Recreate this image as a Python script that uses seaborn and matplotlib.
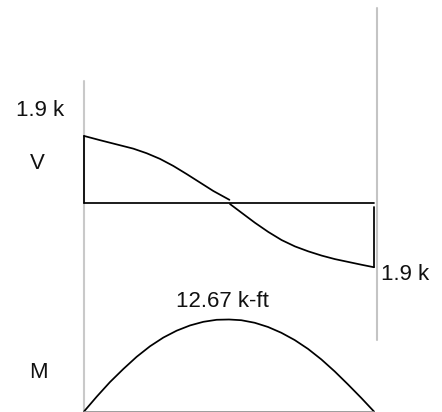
import matplotlib
matplotlib.use("Agg")
import matplotlib.pyplot as plt
import pandas as pd
import seaborn as sns

# beam is 20 ft, shear in kips, moment in k-ft
span = [0, 20]
shear_left_x = [0, 1.10, 2.25, 3.40, 4.32, 5.24, 6.16, 7.08, 8.0, 8.92, 10.03]
shear_left_v = [1.9, 1.78, 1.66, 1.54, 1.41, 1.25, 1.05, 0.82, 0.58, 0.34, 0.09]
shear_right_x = [10.07, 10.88, 11.79, 12.71, 13.63, 14.55, 15.47, 16.39, 17.31, 18.23, 19.15, 20.0]
shear_right_v = [-0.03, -0.28, -0.56, -0.82, -1.05, -1.23, -1.37, -1.49, -1.59, -1.67, -1.75, -1.82]
moment_x = [0, 0.88, 1.79, 2.71, 3.63, 4.55, 5.47, 6.39, 7.31, 8.23, 9.15, 10.0,
            10.85, 11.77, 12.69, 13.61, 14.53, 15.45, 16.37, 17.29, 18.21, 19.12, 20.0]
moment_m = [0, 2.05, 4.05, 5.85, 7.53, 8.98, 10.18, 11.13, 11.85, 12.35, 12.63, 12.67,
            12.57, 12.22, 11.64, 10.84, 9.84, 8.62, 7.17, 5.52, 3.72, 1.87, 0]

sns.set_theme(style="white")
plt.rcParams["font.family"] = ["Liberation Sans", "DejaVu Sans"]

fig = plt.figure(figsize=(4.42, 4.12), dpi=100)

# same full-figure placing for both panels, only the y scale differs
px_per_ft = 14.5
ax_v = fig.add_axes([0, 0, 1, 1])
ax_v.set_xlim(-84 / px_per_ft, (442 - 84) / px_per_ft)
ax_v.set_ylim((203 - 412) / 35.3, 203 / 35.3)
ax_m = fig.add_axes([0, 0, 1, 1], sharex=ax_v)
ax_m.set_ylim(-0.5 * 0.1377, 411.5 * 0.1377)
ax_m.patch.set_alpha(0)

black = dict(color="black", lw=1.25, estimator=None, sort=False)
sns.lineplot(data=pd.DataFrame({"x": shear_left_x, "v": shear_left_v}), x="x", y="v", ax=ax_v, **black)
sns.lineplot(data=pd.DataFrame({"x": shear_right_x, "v": shear_right_v}), x="x", y="v", ax=ax_v, **black)
sns.lineplot(data=pd.DataFrame({"x": moment_x, "m": moment_m}), x="x", y="m", ax=ax_m, **black)

# closing lines of the shear diagram
ax_v.plot(span, [0, 0], color="black", lw=1.25)
ax_v.plot([0, 0], [0, shear_left_v[0]], color="black", lw=1.25)
ax_v.plot([20, 20], [-0.11, shear_right_v[-1]], color="black", lw=1.25)
ax_m.plot(span, [0, 0], color="#8c8c8c", lw=1.2)

# grey support lines, in figure fractions
fig.add_artist(plt.Line2D([84 / 442, 84 / 442], [0, 1 - 81 / 412], color="#c9c9c9", lw=1.5, zorder=0))
fig.add_artist(plt.Line2D([377 / 442, 377 / 442], [1 - 340 / 412, 1 - 8 / 412], color="#c4c4c4", lw=1.5, zorder=0))

# x centre and baseline of each label
labels = [("1.9 k", 40, 116), ("V", 37, 169), ("1.9 k", 405, 280), ("12.67 k-ft", 222.5, 307), ("M", 38, 378)]
for txt, x, y in labels:
    fig.text(x / 442, 1 - y / 412, txt, fontsize=16, ha="center", va="baseline", color="#111111")

for ax in (ax_v, ax_m):
    ax.axis("off")

fig.savefig("out.png", dpi=100)
